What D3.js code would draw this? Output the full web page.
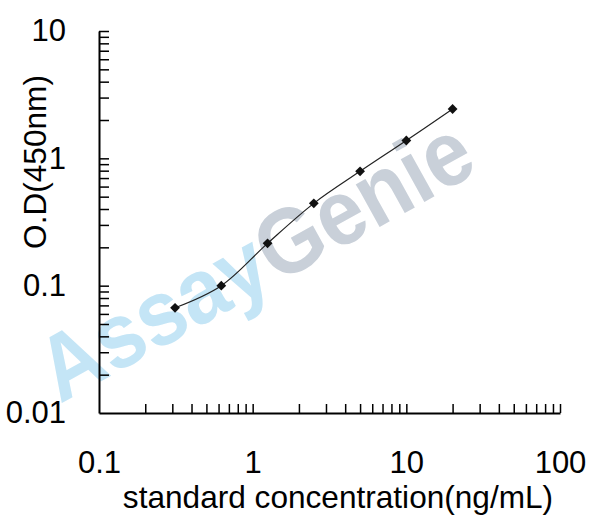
<!DOCTYPE html>
<html>
<head>
<meta charset="utf-8">
<script src="https://cdn.jsdelivr.net/npm/d3@7"></script>
<style>
	body { margin: 0; background: #fff; }
	text { font-family: "Liberation Sans", Arial, sans-serif; }
</style>
</head>
<body>
<script>
// standard curve values
const concentrations = [0.3125, 0.625, 1.25, 2.5, 5, 10, 20];
const odValues = [0.067, 0.1, 0.215, 0.443, 0.79, 1.38, 2.44];

const xLabelValues = [0.1, 1, 10, 100];
const yLabelValues = [0.01, 0.1, 1, 10];

const w = 608;
const h = 530;
const plot = { left: 99, right: 560, top: 31, bottom: 413 };

const xScale = d3.scaleLog().domain([0.1, 100]).range([plot.left, plot.right]);
const yScale = d3.scaleLog().domain([0.01, 10]).range([plot.bottom, plot.top]);

// all the 1..9 ticks of each decade
const decadeTicks = (lo, hi) => {
	const out = [];
	for (let e = lo; e < hi; e++) {
		for (let k = 1; k <= 9; k++) out.push(k * Math.pow(10, e));
	}
	out.push(Math.pow(10, hi));
	return out;
};

const svg = d3
	.select("body")
	.append("svg")
	.attr("width", w)
	.attr("height", h);

// watermark
const wm = svg
	.append("text")
	.attr("transform", "translate(60,404) rotate(-29) scale(1,1.1)")
	.attr("font-size", 84)
	.attr("font-weight", "bold");
wm.append("tspan").attr("fill", "#c4e5f6").text("Assay");
wm.append("tspan").attr("fill", "#c9d0d9").text("Genie");

// x axis: ticks pointing up into the plot
const xAxis = d3
	.axisBottom(xScale)
	.tickValues(decadeTicks(-1, 2).slice(1))
	.tickSizeInner(-9)
	.tickSizeOuter(0)
	.tickFormat("");
const gx = svg
	.append("g")
	.attr("transform", `translate(0, ${plot.bottom})`)
	.call(xAxis);

// y axis: ticks pointing right
const yAxis = d3
	.axisLeft(yScale)
	.tickValues(decadeTicks(-2, 1).slice(1))
	.tickSizeInner(-10)
	.tickSizeOuter(0)
	.tickFormat("");
const gy = svg
	.append("g")
	.attr("transform", `translate(${plot.left}, 0)`)
	.call(yAxis);

[gx, gy].forEach((g) => {
	g.select(".domain").attr("stroke", "#000").attr("stroke-width", 2);
	g.selectAll(".tick line").attr("stroke", "#000").attr("stroke-width", 1.5);
});

// tick labels
const fmt = (d) => String(d);
svg
	.append("g")
	.attr("transform", `translate(0, ${plot.bottom})`)
	.call(d3.axisBottom(xScale).tickValues(xLabelValues).tickSize(0).tickPadding(38).tickFormat(fmt))
	.call((g) => g.select(".domain").remove())
	.selectAll("text")
	.attr("font-size", 31)
	.attr("fill", "#000")
	.attr("font-family", "Liberation Sans, Arial, sans-serif");

svg
	.append("g")
	.attr("transform", `translate(${plot.left}, 0)`)
	.call(d3.axisLeft(yScale).tickValues(yLabelValues).tickSize(0).tickPadding(33).tickFormat(fmt))
	.call((g) => g.select(".domain").remove())
	.selectAll("text")
	.attr("font-size", 31)
	.attr("fill", "#000")
	.attr("font-family", "Liberation Sans, Arial, sans-serif");

// curve
const line = d3
	.line()
	.x((d) => xScale(d[0]))
	.y((d) => yScale(d[1]))
	.curve(d3.curveCatmullRom.alpha(0.5));

const pts = concentrations.map((c, i) => [c, odValues[i]]);

svg
	.append("path")
	.datum(pts)
	.attr("d", line)
	.attr("fill", "none")
	.attr("stroke", "#222")
	.attr("stroke-width", 1.2);

svg
	.selectAll(".pt")
	.data(pts)
	.enter()
	.append("path")
	.attr("class", "pt")
	.attr("d", d3.symbol(d3.symbolSquare, 48))
	.attr("transform", (d) => `translate(${xScale(d[0])},${yScale(d[1])}) rotate(45)`)
	.attr("fill", "#111");

// axis titles
svg
	.append("text")
	.attr("x", 338)
	.attr("y", 508)
	.attr("text-anchor", "middle")
	.attr("font-size", 31.6)
	.text("standard concentration(ng/mL)");

svg
	.append("text")
	.attr("transform", "rotate(-90)")
	.attr("x", -162)
	.attr("y", 46)
	.attr("text-anchor", "middle")
	.attr("font-size", 31.6)
	.text("O.D(450nm)");
</script>
</body>
</html>
